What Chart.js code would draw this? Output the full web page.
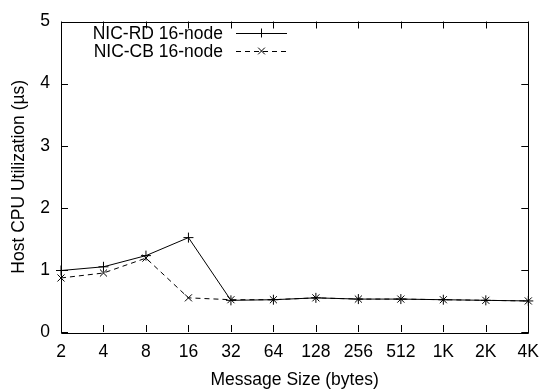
<!DOCTYPE html>
<html>
<head>
<meta charset="utf-8">
<script src="https://cdn.jsdelivr.net/npm/chart.js@4"></script>
<style>
  html, body { margin: 0; padding: 0; background: #fff; }
  #wrap { width: 549px; height: 392px; }
</style>
</head>
<body>
<div id="wrap"><canvas id="c" width="549" height="392"></canvas></div>
<script>
// Message sizes (x categories)
const messageSizes = ['2', '4', '8', '16', '32', '64', '128', '256', '512', '1K', '2K', '4K'];
// Host CPU utilization, microseconds
const nicRd16 = [0.99, 1.05, 1.23, 1.52, 0.51, 0.52, 0.55, 0.53, 0.53, 0.52, 0.51, 0.50];
const nicCb16 = [0.87, 0.95, 1.19, 0.55, 0.52, 0.52, 0.55, 0.53, 0.53, 0.52, 0.51, 0.50];
const yTicks = [0, 1, 2, 3, 4, 5];
const seriesNames = ['NIC-RD 16-node', 'NIC-CB 16-node'];

const FONT = 'Liberation Sans, Arial, sans-serif';
const FS = 17.5;

// Frame, inward tick marks on all four sides, and the key box
const framePlugin = {
  id: 'frame',
  afterDatasetsDraw(chart) {
    const { ctx, chartArea: a, scales } = chart;
    const xs = scales.x, ys = scales.y;
    const tl = 7;
    ctx.save();
    ctx.strokeStyle = '#000';
    ctx.lineWidth = 1;
    ctx.setLineDash([]);
    ctx.beginPath();
    ctx.rect(Math.round(a.left) + 0.5, Math.round(a.top) + 0.5,
             Math.round(a.right - a.left), Math.round(a.bottom - a.top));
    ctx.stroke();
    ctx.beginPath();
    messageSizes.forEach((_, i) => {
      const x = Math.round(xs.getPixelForValue(i)) + 0.5;
      ctx.moveTo(x, a.bottom); ctx.lineTo(x, a.bottom - tl);
      ctx.moveTo(x, a.top); ctx.lineTo(x, a.top + tl);
    });
    yTicks.forEach(v => {
      const y = Math.round(ys.getPixelForValue(v)) + 0.5;
      ctx.moveTo(a.left, y); ctx.lineTo(a.left + tl, y);
      ctx.moveTo(a.right, y); ctx.lineTo(a.right - tl, y);
    });
    ctx.stroke();

    // key
    ctx.font = FS + 'px ' + FONT;
    ctx.fillStyle = '#000';
    ctx.textAlign = 'right';
    ctx.textBaseline = 'middle';
    const keyTextRight = 223;
    const x0 = 236, x1 = 287, xm = (x0 + x1) / 2;
    const rows = [33, 51];
    chart.data.datasets.forEach((ds, i) => {
      const y = rows[i];
      ctx.fillText(seriesNames[i], keyTextRight, y + 1);
      ctx.setLineDash(ds.borderDash || []);
      ctx.beginPath();
      ctx.moveTo(x0, y + 0.5); ctx.lineTo(x1, y + 0.5);
      ctx.stroke();
      ctx.setLineDash([]);
      ctx.beginPath();
      const r = 4.5;
      if (ds.pointStyle === 'cross') {
        ctx.moveTo(xm - r, y + 0.5); ctx.lineTo(xm + r, y + 0.5);
        ctx.moveTo(xm, y - r); ctx.lineTo(xm, y + r);
      } else {
        const d = r * 0.75;
        ctx.moveTo(xm - d, y - d); ctx.lineTo(xm + d, y + d);
        ctx.moveTo(xm - d, y + d); ctx.lineTo(xm + d, y - d);
      }
      ctx.stroke();
    });
    ctx.restore();
  }
};

new Chart(document.getElementById('c'), {
  type: 'line',
  data: {
    labels: messageSizes,
    datasets: [
      {
        label: seriesNames[0],
        data: nicRd16,
        borderColor: '#000',
        backgroundColor: '#000',
        borderWidth: 1,
        pointStyle: 'cross',
        pointRadius: 5,
        pointBorderWidth: 1,
        pointBorderColor: '#000',
        tension: 0,
        fill: false
      },
      {
        label: seriesNames[1],
        data: nicCb16,
        borderColor: '#000',
        backgroundColor: '#000',
        borderWidth: 1,
        borderDash: [5, 4],
        pointStyle: 'crossRot',
        pointRadius: 5,
        pointBorderWidth: 1,
        pointBorderColor: '#000',
        tension: 0,
        fill: false
      }
    ]
  },
  options: {
    responsive: false,
    animation: false,
    devicePixelRatio: 1,
    layout: { padding: { left: 0, top: 15, right: 17, bottom: 0 } },
    plugins: { legend: { display: false }, tooltip: { enabled: false } },
    scales: {
      x: {
        type: 'category',
        offset: false,
        grid: { display: false, drawTicks: false },
        border: { display: false },
        ticks: { color: '#000', font: { family: FONT, size: FS }, padding: 10, maxRotation: 0, autoSkip: false },
        title: { display: true, text: 'Message Size (bytes)', color: '#000', font: { family: FONT, size: FS }, padding: { top: 0, bottom: 1 } },
        afterFit(s) { s.height = 60; }
      },
      y: {
        min: 0, max: 5,
        grid: { display: false, drawTicks: false },
        border: { display: false },
        afterBuildTicks(s) { s.ticks = yTicks.map(v => ({ value: v })); },
        ticks: { color: '#000', font: { family: FONT, size: FS }, padding: 11 },
        title: { display: true, text: 'Host CPU Utilization (µs)', color: '#000', font: { family: FONT, size: FS }, padding: { top: 9, bottom: 0 } },
        afterFit(s) { s.width = 61; }
      }
    }
  },
  plugins: [framePlugin]
});
</script>
</body>
</html>
